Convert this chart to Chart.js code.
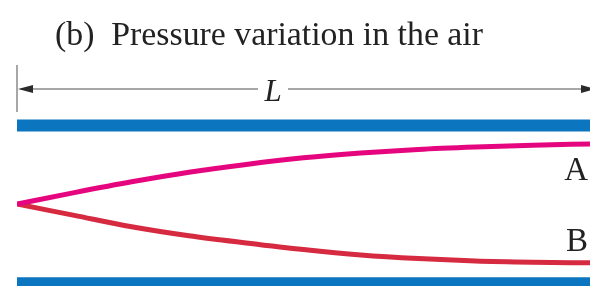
<!DOCTYPE html>
<html>
<head>
<meta charset="utf-8">
<script src="https://cdn.jsdelivr.net/npm/chart.js@4"></script>
<style>
  html, body { margin: 0; padding: 0; background: #fff; }
  #wrap { width: 590px; height: 286px; }
</style>
</head>
<body>
<div id="wrap"><canvas id="pipeChart" width="590" height="286"></canvas></div>
<script>
// position along the pipe, as a fraction of L
var positions = [0, 0.1, 0.2, 0.3, 0.4, 0.5, 0.6, 0.7, 0.8, 0.9, 1.0];
// pressure amplitude, curve A and curve B (relative units)
var curveA = [0, 0.19, 0.37, 0.53, 0.66, 0.77, 0.85, 0.91, 0.95, 0.98, 1.0];
var curveB = [0, -0.19, -0.38, -0.53, -0.65, -0.76, -0.85, -0.91, -0.95, -0.97, -0.98];
// pipe walls
var wallEnds = [0, 1];
var wallTop = [1.31, 1.31];
var wallBottom = [-1.32, -1.32];
var curveLabels = ["A", "B"];
var titleText = "(b)  Pressure variation in the air";
var lengthLabel = "L";

function toPoints(xs, ys) {
  var pts = [];
  for (var i = 0; i < xs.length; i++) {
    pts.push({x: xs[i], y: ys[i]});
  }
  return pts;
}

var colors = {
  wall: "#0b76bf",
  A: "#e5067f",
  B: "#d62a40",
  text: "#222222",
  arrow: "#8a8a8a"
};

var overlay = {
  id: 'overlay',
  afterDraw: function(chart) {
    var ctx = chart.ctx;
    var left = chart.chartArea.left;
    var right = chart.chartArea.right;
    ctx.save();

    // title, squeezed a little to fit the width of the original
    ctx.fillStyle = colors.text;
    ctx.font = "34px 'Liberation Serif'";
    ctx.textBaseline = "alphabetic";
    ctx.textAlign = "left";
    var w = ctx.measureText(titleText).width;
    ctx.save();
    ctx.translate(55, 45);
    ctx.scale(428 / w, 1);
    ctx.fillText(titleText, 0, 0);
    ctx.restore();

    // length arrow
    var ay = 89;
    ctx.strokeStyle = colors.arrow;
    ctx.lineWidth = 1.5;
    ctx.beginPath();
    ctx.moveTo(left, 65);
    ctx.lineTo(left, 112);
    ctx.stroke();
    ctx.beginPath();
    ctx.moveTo(left + 4, ay);
    ctx.lineTo(258, ay);
    ctx.moveTo(288, ay);
    ctx.lineTo(right - 4, ay);
    ctx.stroke();
    ctx.fillStyle = "#2a2a2a";
    ctx.beginPath();
    ctx.moveTo(left + 1, ay);
    ctx.lineTo(left + 16, ay - 4);
    ctx.lineTo(left + 16, ay + 4);
    ctx.closePath();
    ctx.fill();
    ctx.beginPath();
    ctx.moveTo(right + 6, ay);
    ctx.lineTo(right - 9, ay - 4);
    ctx.lineTo(right - 9, ay + 4);
    ctx.closePath();
    ctx.fill();

    ctx.fillStyle = colors.text;
    ctx.font = "italic 31px 'Liberation Serif'";
    ctx.textAlign = "center";
    ctx.fillText(lengthLabel, 273, 101);

    // curve labels
    ctx.font = "33px 'Liberation Serif'";
    ctx.textAlign = "right";
    ctx.fillText(curveLabels[0], 588, 180);
    ctx.fillText(curveLabels[1], 588, 251);
    ctx.restore();
  }
};

var ctx = document.getElementById('pipeChart');

var pipeChart = new Chart(ctx, {
  type: 'scatter',
  data: {
    datasets: [
      {
        data: toPoints(wallEnds, wallTop),
        showLine: true,
        borderColor: colors.wall,
        borderWidth: 12,
        pointRadius: 0
      },
      {
        data: toPoints(wallEnds, wallBottom),
        showLine: true,
        borderColor: colors.wall,
        borderWidth: 12,
        pointRadius: 0
      },
      {
        data: toPoints(positions, curveA),
        showLine: true,
        borderColor: colors.A,
        borderWidth: 5,
        cubicInterpolationMode: 'monotone',
        pointRadius: 0
      },
      {
        data: toPoints(positions, curveB),
        showLine: true,
        borderColor: colors.B,
        borderWidth: 5,
        cubicInterpolationMode: 'monotone',
        pointRadius: 0
      }
    ]
  },
  options: {
    responsive: false,
    animation: false,
    layout: { padding: { left: 17, right: 0, top: 0, bottom: 0 } },
    plugins: {
      legend: { display: false },
      tooltip: { enabled: false }
    },
    scales: {
      x: { type: 'linear', display: false, min: 0, max: 1 },
      y: { type: 'linear', display: false, min: -82 / 60, max: 204 / 60 }
    }
  },
  plugins: [overlay]
});
</script>
</body>
</html>
